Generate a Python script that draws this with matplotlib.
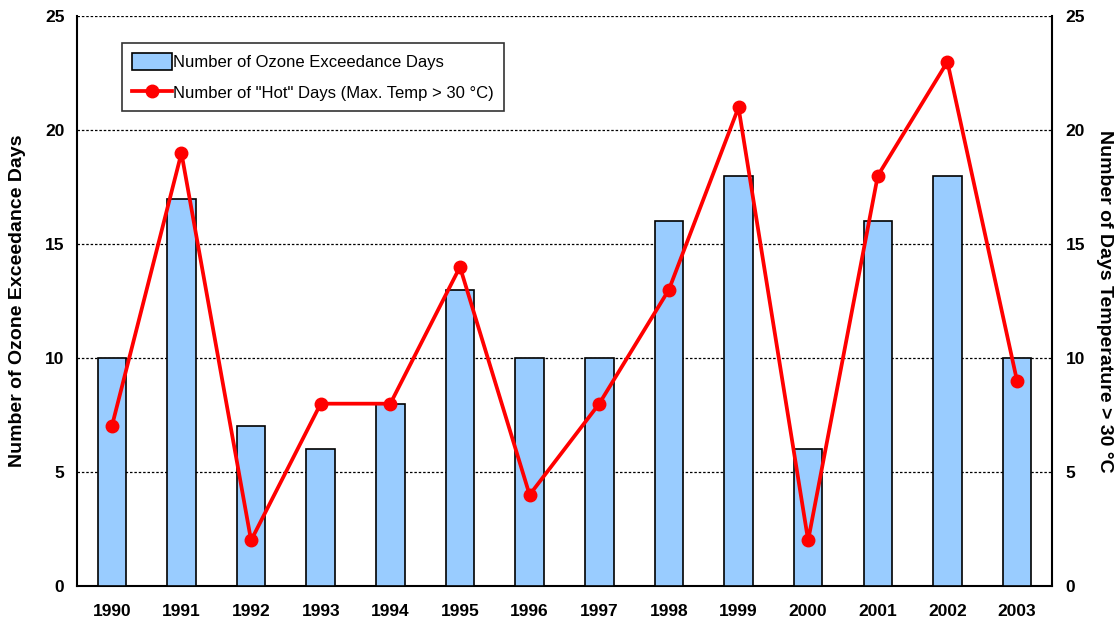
import numpy as np
import matplotlib.pyplot as plt

# data
years = ['1990', '1991', '1992', '1993', '1994', '1995', '1996',
         '1997', '1998', '1999', '2000', '2001', '2002', '2003']
ozone_days = [10, 17, 7, 6, 8, 13, 10, 10, 16, 18, 6, 16, 18, 10]
hot_days = [7, 19, 2, 8, 8, 14, 4, 8, 13, 21, 2, 18, 23, 9]

plt.rcParams['font.family'] = ['Liberation Sans', 'DejaVu Sans']

fig = plt.figure(figsize=(11.19, 6.25), dpi=100)
ax = fig.add_axes([0.0688, 0.0624, 0.8712, 0.9116])
x = np.arange(len(years))

bars = ax.bar(x, ozone_days, width=0.41, color='#99CCFF', edgecolor='black',
              linewidth=1.2, zorder=3, label='Number of Ozone Exceedance Days')
ax.set_xlim(-0.5, len(years) - 0.5)
ax.set_ylim(0, 25)
ax.set_yticks(np.arange(0, 26, 5))
ax.set_xticks(x)
ax.set_xticklabels(years)
ax.grid(axis='y', color='black', linestyle=(0, (2, 1.5)), linewidth=0.9, zorder=0)
ax.spines['top'].set_visible(False)
ax.spines['left'].set_linewidth(1.5)
ax.spines['bottom'].set_linewidth(1.5)
ax.spines['right'].set_linewidth(1.5)
ax.tick_params(axis='x', length=0, pad=13, labelsize=12.5)
ax.tick_params(axis='y', length=0, pad=9, labelsize=12.5)
for lab in ax.get_xticklabels() + ax.get_yticklabels():
    lab.set_fontweight('bold')
ax.set_ylabel('Number of Ozone Exceedance Days', fontsize=14, fontweight='bold', labelpad=14)

ax2 = ax.twinx()
ax2.set_ylim(0, 25)
ax2.set_yticks(np.arange(0, 26, 5))
ax2.tick_params(length=0, pad=10, labelsize=12.5)
for lab in ax2.get_yticklabels():
    lab.set_fontweight('bold')
for s in ax2.spines.values():
    s.set_visible(False)
line, = ax2.plot(x, hot_days, color='red', linewidth=2.7, marker='o', markersize=9,
                 label='Number of "Hot" Days (Max. Temp > 30 \u00b0C)', zorder=4)
ax2.set_ylabel('Number of Days Temperature > 30 \u00b0C', fontsize=14,
               fontweight='bold', rotation=-90, labelpad=20)

leg = ax2.legend([bars, line], [bars.get_label(), line.get_label()],
                 loc='upper left', bbox_to_anchor=(0.046, 0.953), fontsize=12,
                 frameon=True, fancybox=False, edgecolor='black',
                 borderaxespad=0, handlelength=2.4, handleheight=1.2,
                 handletextpad=0.1, borderpad=0.6, labelspacing=0.8)
leg.get_frame().set_linewidth(1.2)

plt.savefig('out.png', dpi=100)
